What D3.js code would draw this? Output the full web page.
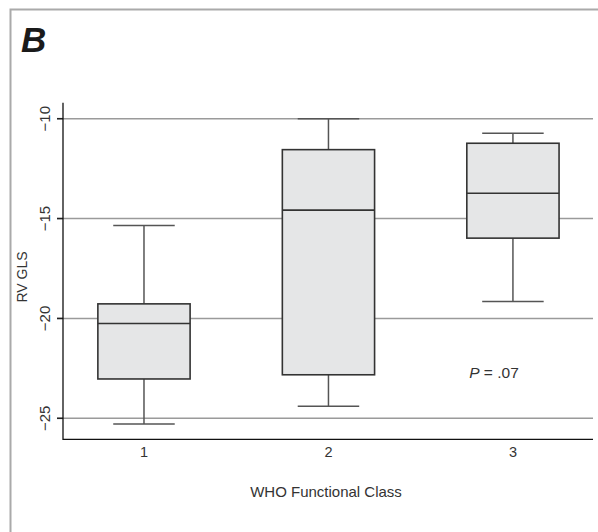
<!DOCTYPE html>
<html lang="en">
<head>
    <meta charset="UTF-8">
    <title>RV GLS by WHO Functional Class</title>
    <script src="https://d3js.org/d3.v7.min.js"></script>
    <style>
        body {
            margin: 0;
            background: #fff;
            font-family: "Liberation Sans", Arial, sans-serif;
        }
        .grid line { stroke: #9a9a9a; stroke-width: 1.5; }
        .box { fill: #e5e6e7; stroke: #333; stroke-width: 1.6; }
        .median { stroke: #333; stroke-width: 1.6; }
        .whisker { stroke: #555; stroke-width: 1.5; }
    </style>
</head>
<body>
    <svg id="chart"></svg>

    <script>
        // data
        const classes = [1, 2, 3];
        const mins    = [-25.28, -24.40, -19.15];
        const q1s     = [-23.03, -22.82, -15.98];
        const medians = [-20.25, -14.58, -13.73];
        const q3s     = [-19.27, -11.55, -11.23];
        const maxs    = [-15.35, -10.00, -10.73];
        const yTicks  = [-10, -15, -20, -25];

        const width = 598;
        const height = 532;
        const plotL = 63, plotR = 593, plotT = 102.7, plotB = 439.3;

        const svg = d3.select("#chart")
                      .attr("width", width)
                      .attr("height", height);

        // frame (only top and left edges visible)
        svg.append("path")
           .attr("d", `M10.5,${height} V9.5 H${width}`)
           .attr("fill", "none")
           .attr("stroke", "#aaa")
           .attr("stroke-width", 2);

        svg.append("text")
           .attr("x", 21)
           .attr("y", 52)
           .attr("font-size", 35)
           .attr("font-weight", "bold")
           .attr("font-style", "italic")
           .attr("fill", "#1a1a1a")
           .text("B");

        const x = d3.scaleLinear().domain([0.561, 3.434]).range([plotL, plotR]);
        const y = d3.scaleLinear().domain([-26.05, -9.2]).range([plotB, plotT]);

        // gridlines + ticks
        const grid = svg.append("g").attr("class", "grid");
        grid.selectAll("line.gl")
            .data(yTicks)
            .enter()
            .append("line")
            .attr("class", "gl")
            .attr("x1", plotL - 6)
            .attr("x2", plotR)
            .attr("y1", d => y(d))
            .attr("y2", d => y(d));

        grid.selectAll("line.tk")
            .data(yTicks)
            .enter()
            .append("line")
            .attr("class", "tk")
            .attr("x1", plotL - 6)
            .attr("x2", plotL)
            .attr("y1", d => y(d))
            .attr("y2", d => y(d))
            .style("stroke", "#222");

        svg.selectAll(".ylab")
           .data(yTicks)
           .enter()
           .append("text")
           .attr("class", "ylab")
           .attr("transform", d => `translate(50,${y(d)}) rotate(-90)`)
           .attr("text-anchor", "middle")
           .attr("font-size", 15)
           .attr("fill", "#333")
           .text(d => d3.format("d")(d));

        // boxes
        const data = classes.map((c, i) => ({
            c, min: mins[i], q1: q1s[i], med: medians[i], q3: q3s[i], max: maxs[i]
        }));
        const boxW = x(1.25) - x(0.75);
        const capW = x(1 + 1/6) - x(1 - 1/6);

        const g = svg.selectAll(".bp")
                     .data(data)
                     .enter()
                     .append("g")
                     .attr("class", "bp");

        g.append("line").attr("class", "whisker")
         .attr("x1", d => x(d.c)).attr("x2", d => x(d.c))
         .attr("y1", d => y(d.max)).attr("y2", d => y(d.q3));
        g.append("line").attr("class", "whisker")
         .attr("x1", d => x(d.c)).attr("x2", d => x(d.c))
         .attr("y1", d => y(d.q1)).attr("y2", d => y(d.min));
        g.append("line").attr("class", "whisker")
         .attr("x1", d => x(d.c) - capW / 2).attr("x2", d => x(d.c) + capW / 2)
         .attr("y1", d => y(d.max)).attr("y2", d => y(d.max));
        g.append("line").attr("class", "whisker")
         .attr("x1", d => x(d.c) - capW / 2).attr("x2", d => x(d.c) + capW / 2)
         .attr("y1", d => y(d.min)).attr("y2", d => y(d.min));

        g.append("rect").attr("class", "box")
         .attr("x", d => x(d.c) - boxW / 2)
         .attr("width", boxW)
         .attr("y", d => y(d.q3))
         .attr("height", d => y(d.q1) - y(d.q3));

        g.append("line").attr("class", "median")
         .attr("x1", d => x(d.c) - boxW / 2).attr("x2", d => x(d.c) + boxW / 2)
         .attr("y1", d => y(d.med)).attr("y2", d => y(d.med));

        // axes lines
        svg.append("path")
           .attr("d", `M${plotL},${plotT} V${plotB} H${plotR}`)
           .attr("fill", "none")
           .attr("stroke", "#111")
           .attr("stroke-width", 1.3);

        svg.selectAll(".xlab")
           .data(classes)
           .enter()
           .append("text")
           .attr("class", "xlab")
           .attr("x", d => x(d))
           .attr("y", 457)
           .attr("text-anchor", "middle")
           .attr("font-size", 14.5)
           .attr("fill", "#333")
           .text(d => d);

        svg.append("text")
           .attr("x", (plotL + plotR) / 2 - 2)
           .attr("y", 497)
           .attr("text-anchor", "middle")
           .attr("font-size", 15)
           .attr("fill", "#333")
           .text("WHO Functional Class");

        svg.append("text")
           .attr("transform", `translate(27,${(plotT + plotB) / 2 + 6}) rotate(-90)`)
           .attr("text-anchor", "middle")
           .attr("font-size", 14)
           .attr("fill", "#333")
           .text("RV GLS");

        const p = svg.append("text")
           .attr("x", 494)
           .attr("y", 378)
           .attr("text-anchor", "middle")
           .attr("font-size", 15.5)
           .attr("fill", "#333");
        p.append("tspan").attr("font-style", "italic").text("P");
        p.append("tspan").text(" = .07");
    </script>
</body>
</html>
